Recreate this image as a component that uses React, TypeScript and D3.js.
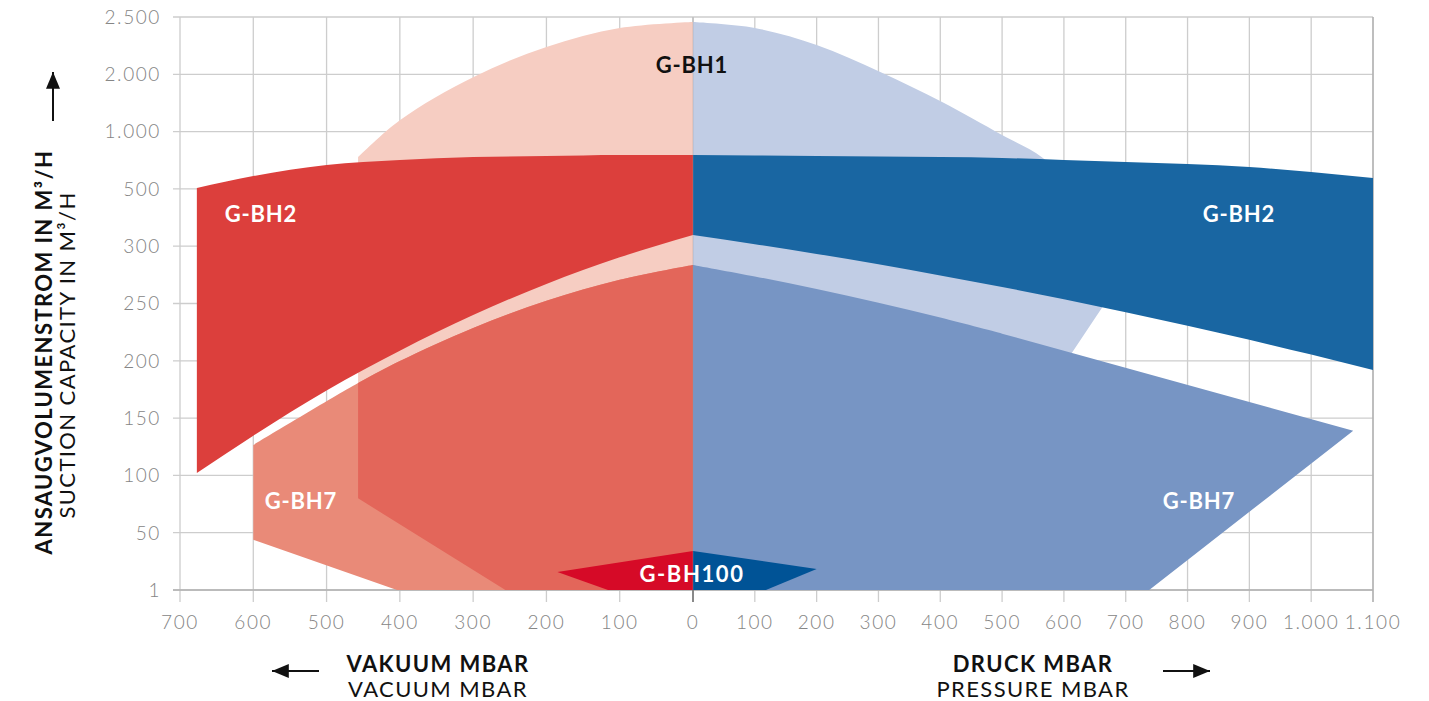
import React from 'react';
import * as d3 from 'd3';

type P = [number, number];

// axis ticks
const yTicks = [1, 50, 100, 150, 200, 250, 300, 500, 1000, 2000, 2500];
const vacTicks = [700, 600, 500, 400, 300, 200, 100, 0];
const presTicks = [0, 100, 200, 300, 400, 500, 600, 700, 800, 900, 1000, 1100];

// G-BH2 band (vacuum side / pressure side), flow in m3/h
const bh2VacX = [677, 600, 500, 400, 300, 200, 100, 0];
const bh2VacTop = [508, 612, 709, 752, 778, 787, 796, 796];
const bh2VacBottom = [102, 134.6, 174.1, 208.8, 239.9, 267.1, 290.3, 339];
const bh2PresX = [0, 100, 200, 300, 400, 500, 600, 700, 800, 900, 1000, 1100];
const bh2PresTop = [796, 791, 787, 782, 778, 770, 752, 735, 717, 691, 647, 595];
const bh2PresBottom = [339, 307, 293.3, 284.2, 274.5, 264.4, 253.8, 242.4, 230.6, 218.3, 205.4, 192];

// G-BH1 outline: curved top, then straight corners
const bh1VacTop: P[] = [[457, 778], [400, 1200], [300, 1950], [200, 2238], [100, 2403], [0, 2456]];
const bh1VacBase: P[] = [[0, 1], [256, 1], [457, 80]];
const bh1PresTop: P[] = [[0, 2456], [100, 2404], [200, 2256], [303, 2020], [403, 1516], [500, 970], [566, 770], [634, 461], [675, 320], [691, 270]];
const bh1PresBase: P[] = [[613, 207], [356, 1], [0, 1]];

// G-BH7 outline
const bh7VacTop: P[] = [[600, 126.5], [457, 180.6], [400, 199.8], [300, 228.7], [200, 252.4], [100, 270.8], [0, 283.7]];
const bh7VacBase: P[] = [[0, 1], [404, 1], [600, 44]];
const bh7PresTop: P[] = [[0, 283.7], [100, 273.6], [200, 262.7], [300, 250.7], [400, 237.7], [500, 223.7]];
const bh7PresBase: P[] = [[1068, 139], [738, 1], [0, 1]];

// G-BH100 outline
const bh100Vac: P[] = [[0, 34.4], [185, 16.4], [116, 1], [0, 1]];
const bh100Pres: P[] = [[0, 34.4], [200, 18.9], [118, 1], [0, 1]];

const FONT = "Lato, 'Open Sans', sans-serif";
const left = 180, right = 1373, top = 17, bottom = 590;

const xVac = d3.scaleLinear().domain([0, 700]).range([693, left]);
const xPres = d3.scaleLinear().domain([0, 1100]).range([693, right]);
const y = d3.scaleLinear().domain(yTicks).range(yTicks.map((_, i) => bottom - i * (bottom - top) / (yTicks.length - 1)));

const fmt = (v: number) => (v >= 1000 ? d3.format(',')(v).replace(',', '.') : String(v));

function outline(xs: d3.ScaleLinear<number, number>, curve: P[], straight: P[]) {
  const line = d3.line<P>().x(d => xs(d[0])).y(d => y(d[1])).curve(d3.curveCatmullRom.alpha(0.5));
  let p = line(curve) || '';
  straight.forEach(d => { p += `L${xs(d[0])},${y(d[1])}`; });
  return p + 'Z';
}

function straightPoly(xs: d3.ScaleLinear<number, number>, pts: P[]) {
  return 'M' + pts.map(d => `${xs(d[0])},${y(d[1])}`).join('L') + 'Z';
}

function band(xs: d3.ScaleLinear<number, number>, xv: number[], t: number[], b: number[]) {
  const area = d3.area<number>()
    .x(i => xs(xv[i]))
    .y0(i => y(b[i]))
    .y1(i => y(t[i]))
    .curve(d3.curveMonotoneX);
  return area(d3.range(xv.length)) || '';
}

export default function App() {
  const bh1Left = outline(xVac, bh1VacTop, bh1VacBase);
  const bh1Right = outline(xPres, bh1PresTop, bh1PresBase);
  const bh7Left = outline(xVac, bh7VacTop, bh7VacBase);
  const bh7Right = outline(xPres, bh7PresTop, bh7PresBase);

  const labelStyle = { fontFamily: FONT, fontWeight: 700, fontSize: 22, letterSpacing: 0.8 } as const;
  const tickStyle = { fontFamily: FONT, fontWeight: 300, fontSize: 19, letterSpacing: 1.6, fill: '#858585' } as const;

  return (
    <svg width={1429} height={701} style={{ position: 'absolute', left: 0, top: 0, background: '#fff' }}>
      <defs>
        <clipPath id="bh1clip"><path d={bh1Left} /></clipPath>
        <marker id="ah" viewBox="0 0 12 10" refX="12" refY="5" markerWidth="17" markerHeight="14" markerUnits="userSpaceOnUse" orient="auto">
          <path d="M0,0L12,5L0,10Z" fill="#111" />
        </marker>
      </defs>

      {/* grid */}
      <g stroke="#cdcdcd" strokeWidth={1.3}>
        {yTicks.map(t => <line key={'h' + t} x1={left - 7} x2={right} y1={y(t)} y2={y(t)} />)}
        {vacTicks.map(t => <line key={'v' + t} x1={xVac(t)} x2={xVac(t)} y1={top} y2={bottom + 12} />)}
        {presTicks.map(t => <line key={'p' + t} x1={xPres(t)} x2={xPres(t)} y1={top} y2={bottom + 12} />)}
      </g>
      <line x1={right} x2={right} y1={top} y2={bottom + 12} stroke="#a8a8a8" strokeWidth={1.2} />
      <line x1={left - 7} x2={right} y1={bottom} y2={bottom} stroke="#b0b0b0" strokeWidth={1.4} />

      {/* G-BH1 */}
      <path d={bh1Left} fill="#f6cdc2" />
      <path d={bh1Right} fill="#c1cde5" />

      {/* G-BH2 */}
      <path d={band(xVac, bh2VacX, bh2VacTop, bh2VacBottom)} fill="#dc3f3c" />
      <path d={band(xPres, bh2PresX, bh2PresTop, bh2PresBottom)} fill="#1966a2" />

      {/* G-BH7 */}
      <path d={bh7Left} fill="#e98a78" />
      <path d={bh7Left} fill="#e3665a" clipPath="url(#bh1clip)" />
      <path d={bh7Right} fill="#7795c4" />

      {/* G-BH100 */}
      <path d={straightPoly(xVac, bh100Vac)} fill="#d60a27" />
      <path d={straightPoly(xPres, bh100Pres)} fill="#005396" />

      <line x1={693} x2={693} y1={top} y2={bottom} stroke="#999" strokeOpacity={0.35} strokeWidth={1} />
      <line x1={693} x2={693} y1={bottom} y2={bottom + 12} stroke="#777" strokeWidth={1.6} />

      {/* series labels */}
      <g style={labelStyle} textAnchor="middle">
        <text x={692} y={73} fill="#111">G-BH1</text>
        <text x={261} y={222} fill="#fff">G-BH2</text>
        <text x={1239} y={222} fill="#fff">G-BH2</text>
        <text x={301} y={509} fill="#fff">G-BH7</text>
        <text x={1199} y={509} fill="#fff">G-BH7</text>
        <text x={692} y={582} fill="#fff" letterSpacing={1.6}>G-BH100</text>
      </g>

      {/* tick labels */}
      <g style={tickStyle}>
        {yTicks.map(t => (
          <text key={'yl' + t} x={161} y={y(t)} dy="0.36em" textAnchor="end">{fmt(t)}</text>
        ))}
        {vacTicks.map(t => (
          <text key={'vl' + t} x={xVac(t)} y={629} textAnchor="middle">{fmt(t)}</text>
        ))}
        {presTicks.filter(t => t > 0).map(t => (
          <text key={'pl' + t} x={xPres(t)} y={629} textAnchor="middle">{fmt(t)}</text>
        ))}
      </g>

      {/* axis titles */}
      <g style={{ fontFamily: FONT, fontSize: 22, letterSpacing: 1.4 }} fill="#111" textAnchor="middle">
        <text transform="translate(52,352) rotate(-90)" fontWeight={700}>ANSAUGVOLUMENSTROM IN M³/H</text>
        <text transform="translate(75,355) rotate(-90)" fontWeight={400}>SUCTION CAPACITY IN M³/H</text>
        <text x={438} y={672} fontWeight={700}>VAKUUM MBAR</text>
        <text x={438} y={697} fontWeight={400}>VACUUM MBAR</text>
        <text x={1033} y={672} fontWeight={700}>DRUCK MBAR</text>
        <text x={1033} y={697} fontWeight={400}>PRESSURE MBAR</text>
      </g>

      {/* arrows */}
      <g stroke="#111" strokeWidth={2}>
        <line x1={53} y1={121} x2={53} y2={72} markerEnd="url(#ah)" />
        <line x1={319} y1={671} x2={272} y2={671} markerEnd="url(#ah)" />
        <line x1={1163} y1={671} x2={1210} y2={671} markerEnd="url(#ah)" />
      </g>
    </svg>
  );
}
